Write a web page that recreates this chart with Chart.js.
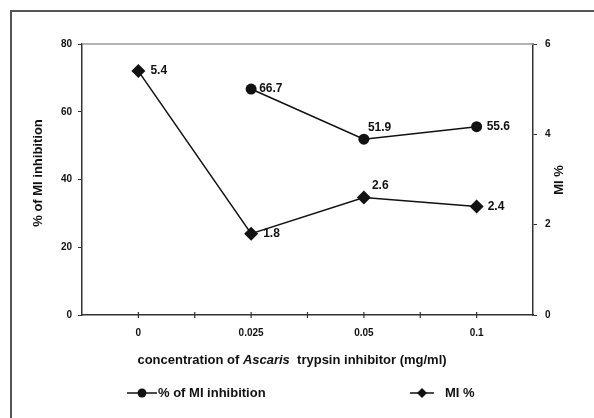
<!DOCTYPE html>
<html>
<head>
<meta charset="utf-8">
<script src="https://cdn.jsdelivr.net/npm/chart.js@4.4.1/dist/chart.umd.min.js"></script>
<style>
  html, body { margin: 0; padding: 0; background: #fff; overflow: hidden; }
  #wrap { position: relative; width: 594px; height: 418px; }
  #frame { position: absolute; left: 10px; top: 10px; width: 600px; height: 420px;
           border-left: 2px solid #555; border-top: 2px solid #555; }
  #chart { position: absolute; left: 0; top: 0; }
</style>
</head>
<body>
<div id="wrap">
  <div id="frame"></div>
  <canvas id="chart" width="594" height="418"></canvas>
</div>
<script>
// chart data
const concentrations = ['0', '0.025', '0.05', '0.1'];
const miInhibition = [null, 66.7, 51.9, 55.6];   // % of MI inhibition (left axis)
const miPercent = [5.4, 1.8, 2.6, 2.4];          // MI % (right axis)
const leftTicks = [0, 20, 40, 60, 80];
const rightTicks = [0, 2, 4, 6];

const FONT = 'Liberation Sans, Arial, sans-serif';
const INK = '#111';

// label offsets (dx, dy) for each point's value label
const inhibLabelOffsets = [null, [8, 0], [4, -12], [10, 0]];
const pctLabelOffsets = [[12, 0], [12, 0], [8, -12], [11, 0]];

/* ============================================================
   Extra drawing: frame top line, x ticks, value labels, titles, legend
   ============================================================ */
const decorPlugin = {
  id: 'decor',
  afterDraw(chart) {
    const c = chart.ctx;
    const a = chart.chartArea;
    const xs = chart.scales.x;
    c.save();

    // light top frame line
    c.strokeStyle = '#999';
    c.lineWidth = 1.5;
    c.beginPath();
    c.moveTo(a.left, a.top);
    c.lineTo(a.right, a.top);
    c.stroke();

    // x ticks at category centres and boundaries
    c.strokeStyle = '#333';
    c.lineWidth = 1.2;
    const n = concentrations.length;
    const step = (a.right - a.left) / n;
    for (let i = 0; i < n; i++) {
      const cx = xs.getPixelForValue(i);
      const pos = [cx];
      if (i > 0) pos.push(cx - step / 2);
      pos.forEach(x => {
        c.beginPath();
        c.moveTo(x, a.bottom - 3);
        c.lineTo(x, a.bottom + 3);
        c.stroke();
      });
    }

    // value labels
    c.fillStyle = INK;
    c.font = 'bold 12px ' + FONT;
    c.textAlign = 'left';
    c.textBaseline = 'middle';
    const drawLabels = (dsIndex, values, offsets) => {
      const meta = chart.getDatasetMeta(dsIndex);
      values.forEach((v, i) => {
        if (v === null) return;
        const p = meta.data[i];
        const o = offsets[i];
        c.fillText(String(v), p.x + o[0], p.y + o[1]);
      });
    };
    drawLabels(0, miInhibition, inhibLabelOffsets);
    drawLabels(1, miPercent, pctLabelOffsets);

    // x axis title with italic genus name
    c.font = 'bold 13px ' + FONT;
    const p1 = 'concentration of ';
    const p2 = 'Ascaris';
    const p3 = '  trypsin inhibitor (mg/ml)';
    const w1 = c.measureText(p1).width;
    const w3 = c.measureText(p3).width;
    c.font = 'italic bold 13px ' + FONT;
    const w2 = c.measureText(p2).width;
    let tx = 292 - (w1 + w2 + w3) / 2;
    const ty = 360;
    c.font = 'bold 13px ' + FONT;
    c.fillText(p1, tx, ty);
    c.font = 'italic bold 13px ' + FONT;
    c.fillText(p2, tx + w1, ty);
    c.font = 'bold 13px ' + FONT;
    c.fillText(p3, tx + w1 + w2, ty);

    // rotated y titles
    c.textAlign = 'center';
    c.font = 'bold 13px ' + FONT;
    c.save();
    c.translate(38, 173);
    c.rotate(-Math.PI / 2);
    c.fillText('% of MI inhibition', 0, 0);
    c.restore();
    c.save();
    c.translate(559, 180);
    c.rotate(-Math.PI / 2);
    c.fillText('MI %', 0, 0);
    c.restore();

    // legend
    const ly = 393;
    c.strokeStyle = INK;
    c.lineWidth = 1.5;
    c.beginPath(); c.moveTo(127, ly); c.lineTo(157, ly); c.stroke();
    c.beginPath(); c.arc(142, ly, 4.5, 0, Math.PI * 2); c.fill();
    c.beginPath(); c.moveTo(410, ly); c.lineTo(434, ly); c.stroke();
    c.beginPath();
    c.moveTo(422, ly - 5); c.lineTo(427, ly); c.lineTo(422, ly + 5); c.lineTo(417, ly);
    c.closePath(); c.fill();
    c.textAlign = 'left';
    c.font = 'bold 13px ' + FONT;
    c.fillText('% of MI inhibition', 158, ly);
    c.fillText('MI %', 445, ly);

    c.restore();
  }
};

/* ============================================================
   CHART
   ============================================================ */
new Chart(document.getElementById('chart'), {
  type: 'line',
  data: {
    labels: concentrations,
    datasets: [
      {
        label: '% of MI inhibition',
        data: miInhibition,
        yAxisID: 'y',
        borderColor: INK,
        backgroundColor: INK,
        borderWidth: 1.5,
        pointStyle: 'circle',
        pointRadius: 5.5,
        pointBorderWidth: 0,
        tension: 0
      },
      {
        label: 'MI %',
        data: miPercent,
        yAxisID: 'y1',
        borderColor: INK,
        backgroundColor: INK,
        borderWidth: 1.5,
        pointStyle: 'rectRot',
        pointRadius: 7,
        pointBorderWidth: 0,
        tension: 0
      }
    ]
  },
  options: {
    responsive: false,
    animation: false,
    layout: { padding: { top: 44, left: 0, right: 0, bottom: 0 } },
    plugins: {
      legend: { display: false },
      tooltip: { enabled: false }
    },
    scales: {
      x: {
        type: 'category',
        offset: true,
        afterFit: s => { s.height = 103; },
        grid: { display: false },
        border: { display: true, color: '#333', width: 1.5 },
        ticks: { padding: 4, color: INK, font: { family: FONT, size: 10, weight: 'bold' } }
      },
      y: {
        position: 'left',
        min: 0, max: 80,
        afterFit: s => { s.width = 82; },
        afterBuildTicks: s => { s.ticks = leftTicks.map(v => ({ value: v })); },
        grid: { drawOnChartArea: false, tickLength: 4, color: '#333' },
        border: { display: true, color: '#333', width: 1.5 },
        ticks: { padding: 6, color: INK, font: { family: FONT, size: 10, weight: 'bold' } }
      },
      y1: {
        position: 'right',
        min: 0, max: 6,
        afterFit: s => { s.width = 61; },
        afterBuildTicks: s => { s.ticks = rightTicks.map(v => ({ value: v })); },
        grid: { drawOnChartArea: false, tickLength: 4, color: '#333' },
        border: { display: true, color: '#333', width: 1.5 },
        ticks: { padding: 8, color: INK, font: { family: FONT, size: 10, weight: 'bold' } }
      }
    }
  },
  plugins: [decorPlugin]
});
</script>
</body>
</html>
